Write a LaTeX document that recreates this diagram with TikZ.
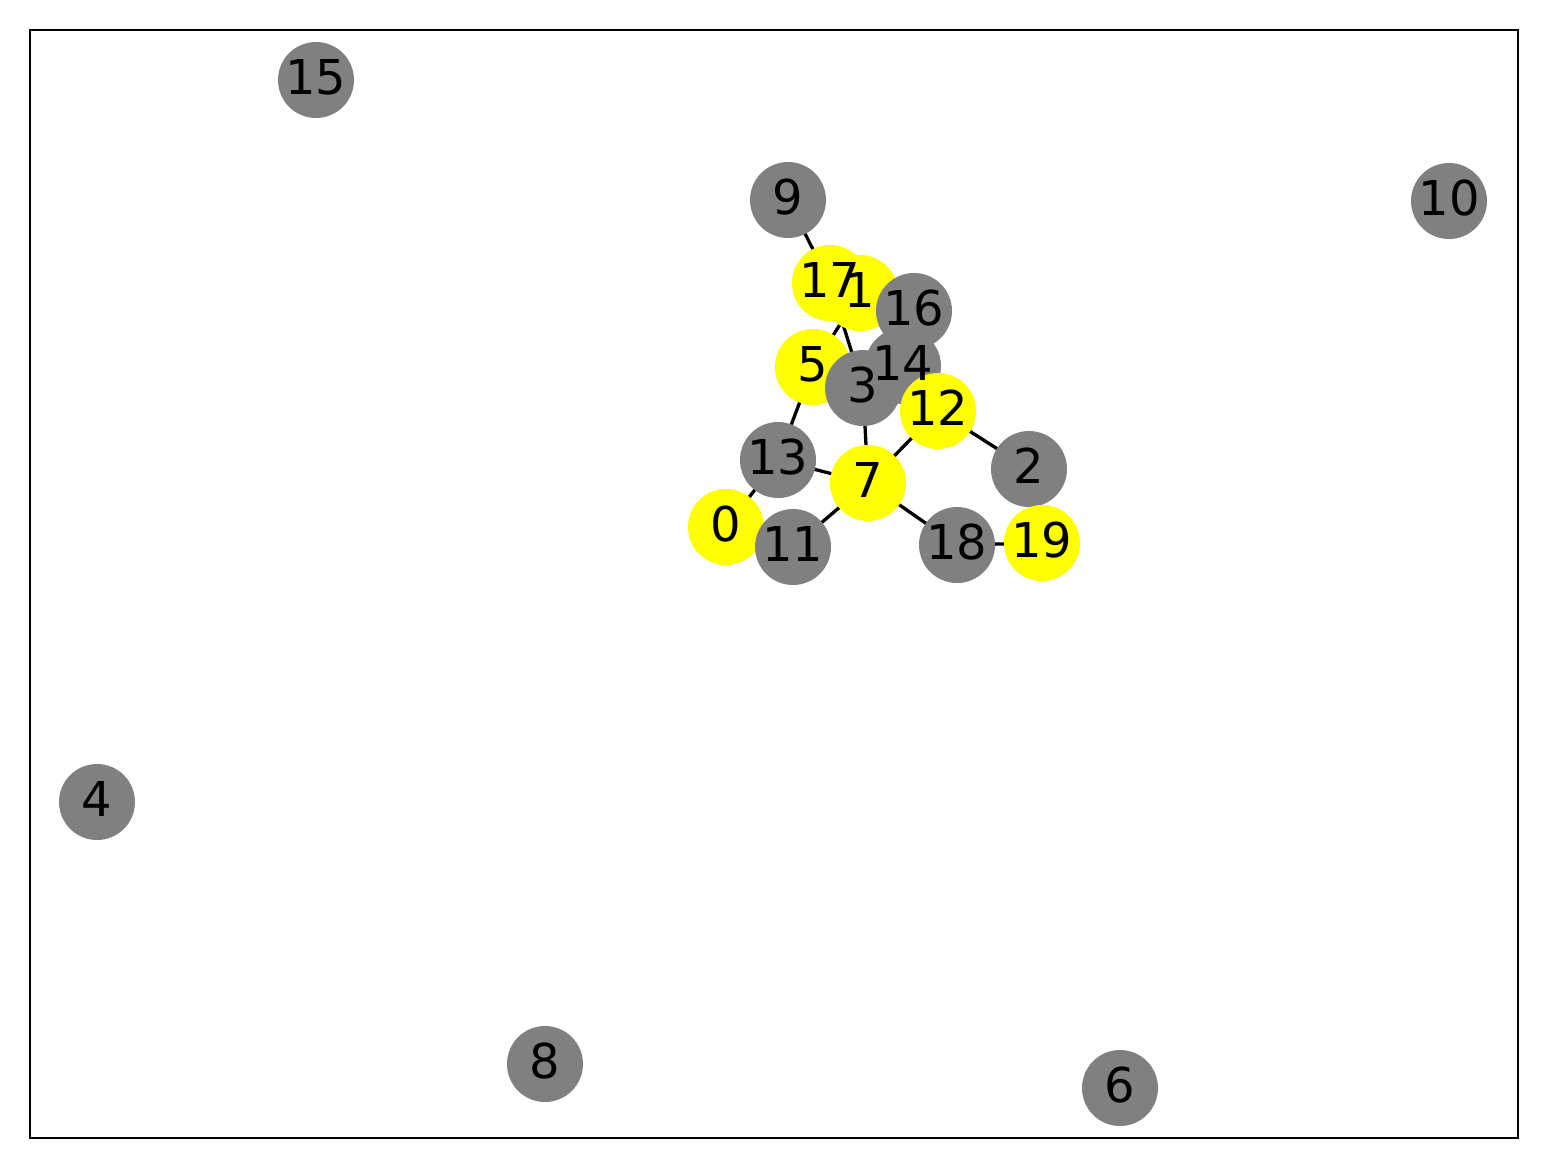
\documentclass[tikz,border=0pt]{standalone}
\usepackage{fontspec}
\setmainfont{DejaVu Sans}
\definecolor{ngray}{HTML}{808080}
\definecolor{nyellow}{HTML}{FFFF00}
\begin{document}
\begin{tikzpicture}[x=1pt,y=-1pt,
  gnode/.style={circle,minimum size=76pt,inner sep=0pt,fill=ngray,draw=none},
  ynode/.style={circle,minimum size=76pt,inner sep=0pt,fill=nyellow,draw=none},
  lab/.style={inner sep=0pt,font=\fontsize{48}{48}\selectfont,text height=35pt,text depth=0pt,yshift=3pt},
  edge/.style={line width=3.3pt,black}]
\useasboundingbox (0,0) rectangle (1548,1168);
\draw[line width=2.7pt] (30,30) rectangle (1518,1138);
\coordinate (p0) at (726,527);
\coordinate (p1) at (860,293);
\coordinate (p2) at (1029,469);
\coordinate (p3) at (863,388);
\coordinate (p4) at (97,802);
\coordinate (p5) at (813,367);
\coordinate (p6) at (1120,1088);
\coordinate (p7) at (868,483);
\coordinate (p8) at (545,1064);
\coordinate (p9) at (788,200);
\coordinate (p10) at (1449,201);
\coordinate (p11) at (793,547);
\coordinate (p12) at (938,411);
\coordinate (p13) at (778,460);
\coordinate (p14) at (903,366);
\coordinate (p15) at (316,80);
\coordinate (p16) at (914,311);
\coordinate (p17) at (830,283);
\coordinate (p18) at (957,545);
\coordinate (p19) at (1042,543);
% edges
\draw[edge] (p9) -- (p17);
\draw[edge] (p17) -- (p3);
\draw[edge] (p1) -- (p5);
\draw[edge] (p5) -- (p13);
\draw[edge] (p3) -- (p7);
\draw[edge] (p7) -- (p12);
\draw[edge] (p12) -- (p2);
\draw[edge] (p13) -- (p7);
\draw[edge] (p13) -- (p0);
\draw[edge] (p7) -- (p11);
\draw[edge] (p7) -- (p18);
\draw[edge] (p18) -- (p19);
% nodes
\node[ynode] (n0) at (p0) {};
\node[gnode] (n11) at (p11) {};
\node[ynode] (n1) at (p1) {};
\node[ynode] (n17) at (p17) {};
\node[gnode] (n16) at (p16) {};
\node[gnode] (n14) at (p14) {};
\node[ynode] (n5) at (p5) {};
\node[gnode] (n3) at (p3) {};
\node[ynode] (n12) at (p12) {};
\node[gnode] (n13) at (p13) {};
\node[ynode] (n7) at (p7) {};
\node[gnode] (n2) at (p2) {};
\node[gnode] (n18) at (p18) {};
\node[ynode] (n19) at (p19) {};
\node[gnode] (n9) at (p9) {};
\node[gnode] (n4) at (p4) {};
\node[gnode] (n6) at (p6) {};
\node[gnode] (n8) at (p8) {};
\node[gnode] (n10) at (p10) {};
\node[gnode] (n15) at (p15) {};
% labels
\foreach \i in {0,...,19} {\node[lab] (l\i) at (p\i) {\i};}
\end{tikzpicture}
\end{document}
